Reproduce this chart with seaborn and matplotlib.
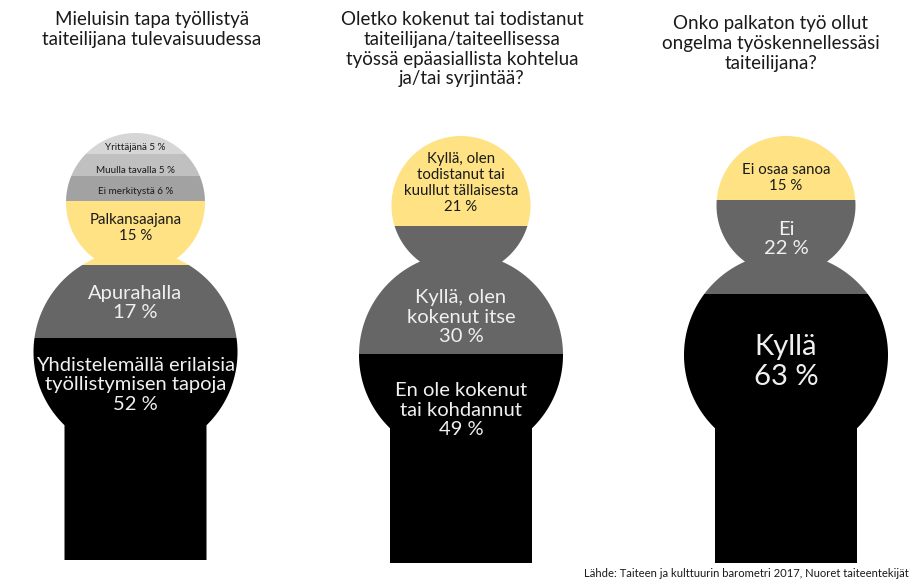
import numpy as np
import matplotlib.pyplot as plt
import seaborn as sns
from matplotlib.patches import Polygon

sns.set_theme(style="white")
plt.rcParams["font.family"] = ["Lato", "DejaVu Sans"]

# --- data ---------------------------------------------------------------
titles = [
    "Mieluisin tapa työllistyä\ntaiteilijana tulevaisuudessa",
    "Oletko kokenut tai todistanut\ntaiteilijana/taiteellisessa\ntyössä epäasiallista kohtelua\nja/tai syrjintää?",
    "Onko palkaton työ ollut\nongelma työskennellessäsi\ntaiteilijana?",
]

job_labels = ["Yrittäjänä", "Muulla tavalla", "Ei merkitystä", "Palkansaajana",
              "Apurahalla", "Yhdistelemällä erilaisia\ntyöllistymisen tapoja"]
job_values = [5, 5, 6, 15, 17, 52]

harass_labels = ["Kyllä, olen\ntodistanut tai\nkuullut tällaisesta",
                 "Kyllä, olen\nkokenut itse",
                 "En ole kokenut\ntai kohdannut"]
harass_values = [21, 30, 49]

unpaid_labels = ["Ei osaa sanoa", "Ei", "Kyllä"]
unpaid_values = [15, 22, 63]

source = "Lähde: Taiteen ja kulttuurin barometri 2017, Nuoret taiteentekijät"

# --- styling / layout ---------------------------------------------------
YELLOW, GRAY, BLACK = "#fee283", "#666666", "#000000"
DARK_TXT, LIGHT_TXT = "#1a1a1a", "#f0f0f0"

panels = [
    dict(labels=job_labels, values=job_values,
         colors=["#d6d6d6", "#c0c0c0", "#a2a2a2", YELLOW, GRAY, BLACK],
         txt=[DARK_TXT] * 4 + [LIGHT_TXT] * 2,
         sizes=[7.1, 7.1, 7.1, 10.8, 14.5, 14.5],
         inline=[True, True, True, False, False, False],
         label_y=[3.5, 8.7, 13.6, 22.2, 39.8, 59.0],
         cx=135.5, top=133, title_x=152, title_y=11),
    dict(labels=harass_labels, values=harass_values,
         colors=[YELLOW, GRAY, BLACK],
         txt=[DARK_TXT, LIGHT_TXT, LIGHT_TXT],
         sizes=[10.8, 14.5, 14.5],
         inline=[False] * 3,
         label_y=[11.0, 42.4, 64.2],
         cx=461, top=136, title_x=462, title_y=11),
    dict(labels=unpaid_labels, values=unpaid_values,
         colors=[YELLOW, GRAY, BLACK],
         txt=[DARK_TXT, LIGHT_TXT, LIGHT_TXT],
         sizes=[10.8, 14.5, 21],
         inline=[False] * 3,
         label_y=[9.8, 24.1, 52.9],
         cx=786, top=136, title_x=771, title_y=15),
]

W, H = 920, 580
BOX_W, BOX_H = 220, 427   # pixel box around one person shape


def silhouette():
    """Head + shoulders + torso outline in axes fraction coords."""
    hc, hr = 69.5, 69.5      # head centre (y) / radius
    bc, br = 219.0, 102.0    # shoulder circle
    thw = 71.0               # torso half width
    yn = (bc**2 - hc**2 - (br**2 - hr**2)) / (2 * (bc - hc))
    xn = np.sqrt(hr**2 - (yn - hc)**2)
    yj = bc + np.sqrt(br**2 - thw**2)

    def arc(cy, r, t0, t1):
        t = np.linspace(t0, t1, 120)
        return np.c_[r * np.cos(t), cy + r * np.sin(t)]

    pts = np.vstack([
        [[-thw, BOX_H]],
        arc(bc, br, np.arctan2(yj - bc, -thw), np.arctan2(yn - bc, -xn) + 2 * np.pi),
        arc(hc, hr, np.arctan2(yn - hc, -xn), np.arctan2(yn - hc, xn) + 2 * np.pi),
        arc(bc, br, np.arctan2(yn - bc, xn), np.arctan2(yj - bc, thw)),
        [[thw, BOX_H]],
    ])
    return np.c_[(pts[:, 0] + BOX_W / 2) / BOX_W, 1 - pts[:, 1] / BOX_H]


fig = plt.figure(figsize=(W / 100, H / 100), dpi=100)
verts = silhouette()

for p, title in zip(panels, titles):
    ax = fig.add_axes([(p["cx"] - BOX_W / 2) / W, 1 - (p["top"] + BOX_H) / H,
                       BOX_W / W, BOX_H / H])
    starts = np.cumsum([0] + p["values"][:-1])
    for v, s, c in zip(p["values"], starts, p["colors"]):
        sns.barplot(x=[0], y=[v], bottom=s, width=1, color=c, saturation=1,
                    linewidth=0, edgecolor="none", ax=ax)

    sil = Polygon(verts, closed=True, transform=ax.transAxes,
                  facecolor="none", edgecolor="none")
    ax.add_patch(sil)
    for bar in ax.patches:
        if bar is not sil:
            bar.set_clip_path(sil)

    for lab, v, y, col, fs, inl in zip(p["labels"], p["values"], p["label_y"],
                                       p["txt"], p["sizes"], p["inline"]):
        text = f"{lab} {v} %" if inl else f"{lab}\n{v} %"
        ax.text(0, y, text, ha="center", va="center", fontsize=fs,
                color=col, linespacing=1.2)

    ax.set_xlim(-0.5, 0.5)
    ax.set_ylim(100, 0)
    ax.axis("off")

    fig.text(p["title_x"] / W, 1 - p["title_y"] / H, title, ha="center",
             va="top", fontsize=13.5, linespacing=1.2, color=DARK_TXT)

fig.text(584 / W, 1 - 579 / H, source, ha="left", va="bottom", fontsize=8.1,
         color=DARK_TXT)

fig.savefig("out.png", dpi=100)
